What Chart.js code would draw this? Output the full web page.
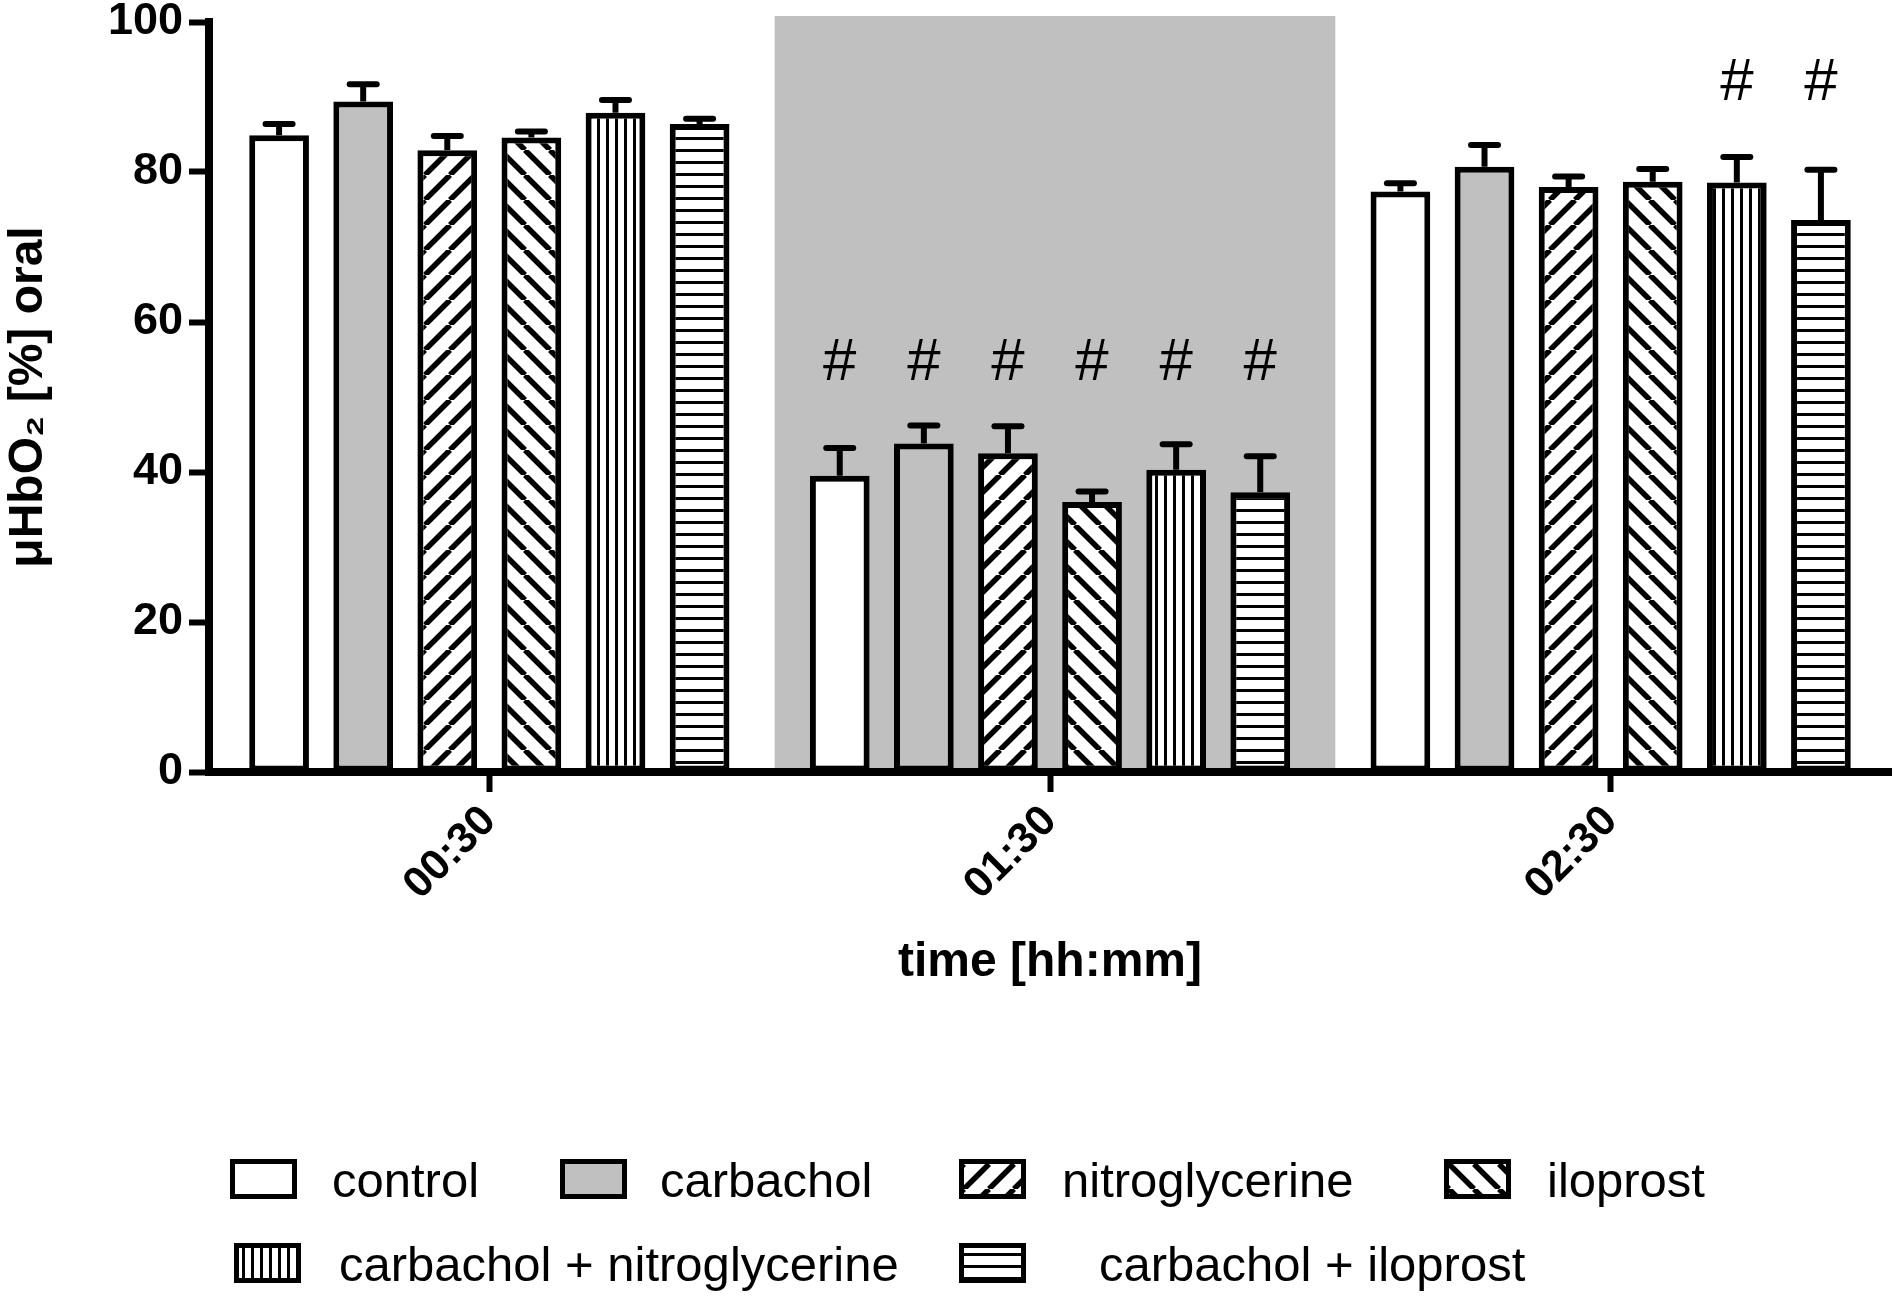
<!DOCTYPE html>
<html><head><meta charset="utf-8">
<script src="https://cdn.jsdelivr.net/npm/chart.js@4.4.1/dist/chart.umd.min.js"></script>
<style>
html,body{margin:0;padding:0;background:#fff;}
#wrap{position:relative;width:1898px;height:1298px;overflow:hidden;}
#c{position:absolute;left:0;top:0;}
.lg-box{position:absolute;width:67px;height:40px;box-sizing:border-box;border:5px solid #000;background:#fff;}
.lg-box canvas{display:block}
.lg-txt{position:absolute;font:49px/49px 'Liberation Sans',Arial,Helvetica,sans-serif;color:#000;white-space:nowrap}
</style></head>
<body><div id="wrap"><canvas id="c" width="1898" height="1298"></canvas><div id="legend"></div></div>
<script>
// ---- data ----
const categories = ['00:30', '01:30', '02:30'];
const shadedCategory = '01:30';
const seriesNames = ['control', 'carbachol', 'nitroglycerine', 'iloprost', 'carbachol + nitroglycerine', 'carbachol + iloprost'];
const controlMean = [84.9, 39.5, 77.4];
const controlErr = [1.5, 3.7, 1.1];
const carbacholMean = [89.4, 43.8, 80.7];
const carbacholErr = [2.3, 2.4, 2.9];
const nitroMean = [82.9, 42.5, 78.0];
const nitroErr = [1.9, 3.6, 1.4];
const iloprostMean = [84.6, 36.0, 78.7];
const iloprostErr = [0.8, 1.4, 1.7];
const carbNitroMean = [87.9, 40.3, 78.6];
const carbNitroErr = [1.7, 3.4, 3.4];
const carbIloMean = [86.4, 37.3, 73.6];
const carbIloErr = [0.7, 4.8, 6.7];
// significance markers (#) per series / category
const controlSig = [false, true, false];
const carbacholSig = [false, true, false];
const nitroSig = [false, true, false];
const iloprostSig = [false, true, false];
const carbNitroSig = [false, true, true];
const carbIloSig = [false, true, true];
const yTicks = [0, 20, 40, 60, 80, 100];

// ---- styles ----
const FONT = "'Liberation Sans', Arial, Helvetica, sans-serif";
const GRAY = '#c0c0c0';

function makeTile(kind) {
  const t = document.createElement('canvas');
  let c;
  if (kind === 'fwd' || kind === 'back') {
    const s = 25; t.width = s; t.height = s; c = t.getContext('2d');
    c.fillStyle = '#fff'; c.fillRect(0, 0, s, s);
    c.strokeStyle = '#000'; c.lineWidth = 5.5; c.beginPath();
    for (const k of [-1, 0, 1]) {
      if (kind === 'fwd') { c.moveTo(k * s, s); c.lineTo(k * s + s, 0); }
      else { c.moveTo(k * s, 0); c.lineTo(k * s + s, s); }
    }
    c.stroke();
  } else if (kind === 'vert') {
    t.width = 9; t.height = 9; c = t.getContext('2d');
    c.fillStyle = '#fff'; c.fillRect(0, 0, 9, 9);
    c.fillStyle = '#000'; c.fillRect(3, 0, 3, 9);
  } else if (kind === 'horiz') {
    t.width = 12; t.height = 12; c = t.getContext('2d');
    c.fillStyle = '#fff'; c.fillRect(0, 0, 12, 12);
    c.fillStyle = '#000'; c.fillRect(0, 5, 12, 3);
  }
  return t;
}
const fillKinds = ['white', 'gray', 'fwd', 'back', 'vert', 'horiz'];
const mainCtx = document.getElementById('c').getContext('2d');
function fillFor(ctx, k) {
  if (k === 'white') return '#fff';
  if (k === 'gray') return GRAY;
  return ctx.createPattern(makeTile(k), 'repeat');
}

const means = [controlMean, carbacholMean, nitroMean, iloprostMean, carbNitroMean, carbIloMean];
const errs = [controlErr, carbacholErr, nitroErr, iloprostErr, carbNitroErr, carbIloErr];
const sigs = [controlSig, carbacholSig, nitroSig, iloprostSig, carbNitroSig, carbIloSig];

const datasets = seriesNames.map((name, i) => ({
  label: name,
  data: means[i],
  err: errs[i],
  sig: sigs[i],
  backgroundColor: fillFor(mainCtx, fillKinds[i]),
  borderColor: '#000',
  borderWidth: 6,
  borderSkipped: false,
  categoryPercentage: 0.9,
  barPercentage: 0.71
}));

const overlay = {
  id: 'overlay',
  beforeDatasetsDraw(chart) {
    const { ctx, scales: { x, y } } = chart;
    const i = categories.indexOf(shadedCategory);
    const half = (x.getPixelForValue(1) - x.getPixelForValue(0)) / 2;
    const cx = x.getPixelForValue(i);
    const top = y.getPixelForValue(y.max) - 6;
    ctx.save();
    ctx.fillStyle = GRAY;
    ctx.fillRect(cx - half + 5, top, 2 * half, y.getPixelForValue(0) - top);
    ctx.restore();
  },
  afterDatasetsDraw(chart) {
    const { ctx, scales: { y } } = chart;
    const tops = categories.map(() => Infinity);
    ctx.save();
    ctx.strokeStyle = '#000';
    ctx.lineWidth = 6;
    chart.data.datasets.forEach((ds, di) => {
      const meta = chart.getDatasetMeta(di);
      meta.data.forEach((bar, i) => {
        const top = y.getPixelForValue(ds.data[i] + ds.err[i]);
        ctx.beginPath(); ctx.lineCap = 'butt';
        ctx.moveTo(bar.x, bar.y); ctx.lineTo(bar.x, top); ctx.stroke();
        ctx.beginPath(); ctx.lineCap = 'round';
        ctx.moveTo(bar.x - 13.5, top); ctx.lineTo(bar.x + 13.5, top); ctx.stroke();
        tops[i] = Math.min(tops[i], top);
      });
    });
    ctx.font = '60px ' + FONT;
    ctx.textAlign = 'center';
    ctx.textBaseline = 'middle';
    ctx.fillStyle = '#000';
    chart.data.datasets.forEach((ds, di) => {
      const meta = chart.getDatasetMeta(di);
      meta.data.forEach((bar, i) => {
        if (ds.sig[i]) ctx.fillText('#', bar.x, tops[i] - 62);
      });
    });
    ctx.restore();
  }
};

new Chart(mainCtx, {
  type: 'bar',
  data: { labels: categories, datasets },
  plugins: [overlay],
  options: {
    responsive: false,
    animation: false,
    devicePixelRatio: 1,
    layout: { padding: { top: 22, right: 7, bottom: 306, left: 0 } },
    plugins: { legend: { display: false }, tooltip: { enabled: false } },
    scales: {
      x: {
        type: 'category',
        offset: true,
        afterFit(s) { s.height = 220; },
        border: { display: true, color: '#000', width: 8, z: 1 },
        grid: { display: true, offset: false, drawOnChartArea: false, drawTicks: true, tickLength: 20, tickWidth: 6, tickColor: '#000', z: 1 },
        ticks: { color: '#000', font: { family: FONT, size: 43, weight: 'bold' }, minRotation: 45, maxRotation: 45, padding: 4 },
        title: { display: true, text: 'time [hh:mm]', color: '#000', font: { family: FONT, size: 48, weight: 'bold' }, padding: { top: 0, bottom: 0 } }
      },
      y: {
        min: 0, max: 100,
        afterFit(s) { s.width = 209; },
        afterBuildTicks(s) { s.ticks = yTicks.map(v => ({ value: v })); },
        border: { display: true, color: '#000', width: 8, z: 1 },
        grid: { display: true, drawOnChartArea: false, drawTicks: true, tickLength: 20, tickWidth: 6, tickColor: '#000', z: 1 },
        ticks: { color: '#000', font: { family: FONT, size: 45, weight: 'bold', lineHeight: 0.7 }, padding: 6 },
        title: { display: true, text: 'μHbO₂ [%] oral', color: '#000', font: { family: FONT, size: 48, weight: 'bold' }, padding: { top: 0, bottom: 0 } }
      }
    }
  }
});

// ---- HTML legend ----
const legendLayout = [[230, 1159, 332], [560, 1159, 660], [959, 1159, 1062], [1444, 1159, 1547], [234, 1243, 339], [959, 1243, 1099]];
const lg = document.getElementById('legend');
seriesNames.forEach((name, i) => {
  const [bx, by, tx] = legendLayout[i];
  const box = document.createElement('div');
  box.className = 'lg-box';
  box.style.left = bx + 'px'; box.style.top = by + 'px';
  const cv = document.createElement('canvas');
  cv.width = 57; cv.height = 30;
  const cc = cv.getContext('2d');
  cc.fillStyle = fillFor(cc, fillKinds[i]);
  cc.fillRect(0, 0, 57, 30);
  box.appendChild(cv);
  lg.appendChild(box);
  const t = document.createElement('div');
  t.className = 'lg-txt';
  t.textContent = name;
  t.style.left = tx + 'px'; t.style.top = (by - 3.5) + 'px';
  lg.appendChild(t);
});
</script>
</body></html>
